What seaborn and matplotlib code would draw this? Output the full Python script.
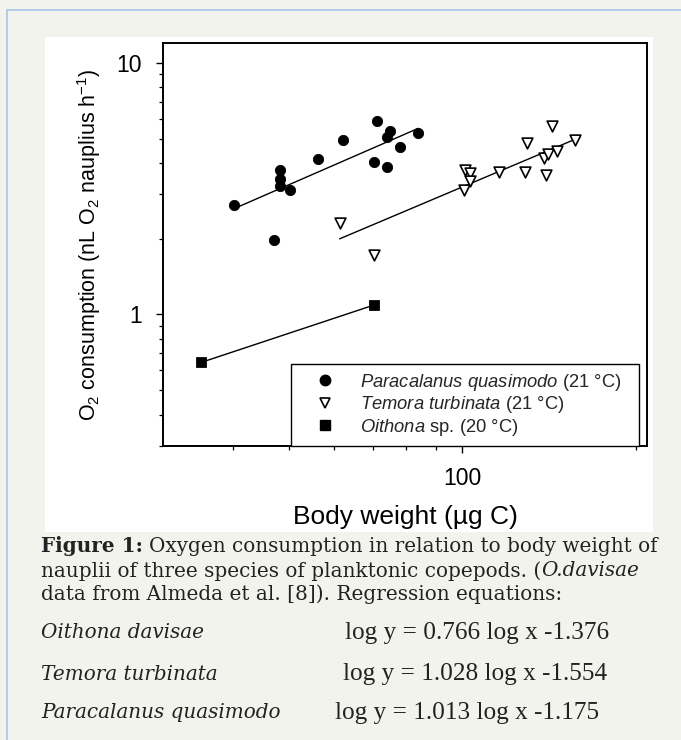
import numpy as np
import pandas as pd
import matplotlib
matplotlib.use("Agg")
import matplotlib.pyplot as plt
import seaborn as sns
from matplotlib.lines import Line2D
from matplotlib.patches import Rectangle
from matplotlib.ticker import FixedLocator, NullFormatter, FixedFormatter

# data (body weight in ug C, O2 consumption in nL O2 nauplius^-1 h^-1)
para_x = [40.2, 47.2, 48.3, 48.3, 48.3, 50.2, 56.2, 62.1, 70.2, 71.1, 74.0, 74.0, 75.1, 78.1, 83.9]
para_y = [2.73, 1.97, 3.75, 3.44, 3.25, 3.13, 4.14, 4.96, 4.04, 5.87, 3.84, 5.08, 5.37, 4.64, 5.26]

tem_x = [61.3, 70.4, 101.2, 103.1, 103.1, 100.9, 115.9, 128.2, 129.7, 139.9, 143.0, 138.8, 140.7, 146.0, 156.5]
tem_y = [2.31, 1.73, 3.75, 3.65, 3.40, 3.12, 3.69, 3.69, 4.81, 3.57, 5.60, 4.17, 4.33, 4.47, 4.93]

oit_x = [35.3, 70.3]
oit_y = [0.645, 1.09]

legend_labels = [r"$\mathit{Paracalanus\ quasimodo}$ (21 °C)",
                 r"$\mathit{Temora\ turbinata}$ (21 °C)",
                 r"$\mathit{Oithona}$ sp. (20 °C)"]

eq_species = ["Oithona davisae", "Temora turbinata", "Paracalanus quasimodo"]
eq_text = ["log y = 0.766 log x -1.376", "log y = 1.028 log x -1.554", "log y = 1.013 log x -1.175"]

sns.set_theme(style="ticks")
plt.rcParams['font.family'] = ['Liberation Sans', 'DejaVu Sans']
plt.rcParams['mathtext.fontset'] = 'custom'
plt.rcParams['mathtext.rm'] = 'Liberation Sans'
plt.rcParams['mathtext.it'] = 'Liberation Sans:italic'
plt.rcParams['mathtext.bf'] = 'Liberation Sans:bold'

W, H = 681, 740
fig = plt.figure(figsize=(W / 100, H / 100), dpi=100, facecolor='#f3f3ee')

# page decoration: blue frame lines and the white picture area
fig.add_artist(Line2D([7 / W, 1], [1 - 9.5 / H, 1 - 9.5 / H], color='#a9c4e8', lw=1.2))
fig.add_artist(Line2D([7 / W, 7 / W], [0, 1 - 9.5 / H], color='#a9c4e8', lw=1.2))
fig.add_artist(Rectangle((45 / W, 1 - 532 / H), (653 - 45) / W, (532 - 37) / H,
                         transform=fig.transFigure, facecolor='white', edgecolor='none', zorder=0))

ax = fig.add_axes([163 / W, 1 - 446 / H, (647 - 163) / W, (446 - 43) / H])
ax.set_facecolor('white')

df_p = pd.DataFrame({'x': para_x, 'y': para_y})
df_t = pd.DataFrame({'x': tem_x, 'y': tem_y})
df_o = pd.DataFrame({'x': oit_x, 'y': oit_y})

sns.scatterplot(data=df_p, x='x', y='y', marker='o', s=55, color='black', edgecolor='black', ax=ax, zorder=3)
sns.scatterplot(data=df_t, x='x', y='y', marker='v', s=60, color='white', edgecolor='black', linewidth=1.2, ax=ax, zorder=3)
sns.scatterplot(data=df_o, x='x', y='y', marker='s', s=50, color='black', edgecolor='black', ax=ax, zorder=3)

# log-log regression lines over the range of each species
for d in (df_p, df_t, df_o):
    b, a = np.polyfit(np.log10(d['x']), np.log10(d['y']), 1)
    xs = np.array([d['x'].min(), d['x'].max()])
    ax.plot(xs, 10 ** (a + b * np.log10(xs)), color='black', lw=1.0, zorder=2)

ax.set_xscale('log')
ax.set_yscale('log')
ax.set_xlim(30.3, 209)
ax.set_ylim(0.3, 12)

ax.xaxis.set_major_locator(FixedLocator([100]))
ax.xaxis.set_major_formatter(FixedFormatter(['100']))
ax.xaxis.set_minor_locator(FixedLocator([30, 40, 50, 60, 70, 80, 90, 200]))
ax.xaxis.set_minor_formatter(NullFormatter())
ax.yaxis.set_major_locator(FixedLocator([1, 10]))
ax.yaxis.set_major_formatter(FixedFormatter(['1', '10']))
ax.yaxis.set_minor_locator(FixedLocator([0.3, 0.4, 0.5, 0.6, 0.7, 0.8, 0.9, 2, 3, 4, 5, 6, 7, 8, 9]))
ax.yaxis.set_minor_formatter(NullFormatter())

ax.tick_params(which='major', direction='out', length=5, width=1.0, color='black',
               labelsize=16.5, labelcolor='black', pad=10)
ax.tick_params(which='minor', direction='out', length=3, width=0.9, color='black')
for sp in ax.spines.values():
    sp.set_visible(True)
    sp.set_color('black')
    sp.set_linewidth(1.4)

ax.set_xlabel("Body weight (µg C)", fontsize=19, color='black', labelpad=11)
ax.set_ylabel(r"O$_2$ consumption (nL O$_2$ nauplius h$^{-1}$)", fontsize=15.5, color='black', labelpad=10)

handles = [Line2D([], [], ls='none', marker='o', ms=7.5, mfc='black', mec='black'),
           Line2D([], [], ls='none', marker='v', ms=7.5, mfc='white', mec='black', mew=1.2),
           Line2D([], [], ls='none', marker='s', ms=7, mfc='black', mec='black')]
leg = ax.legend(handles, legend_labels, loc='lower left', bbox_to_anchor=(0.265, 0.0, 0.7185, 0.2),
                mode='expand', fontsize=13.2, frameon=True, fancybox=False, framealpha=1,
                edgecolor='black', borderpad=0.45, labelspacing=0.08, handlelength=2.8,
                handletextpad=0.5, borderaxespad=0)
leg.get_frame().set_linewidth(1.0)

# caption under the chart, built from styled runs
renderer = fig.canvas.get_renderer()
CAP = dict(fontsize=14.4, color='#222222', family='DejaVu Serif', va='center')


def text_width(s, **kw):
    t = fig.text(0, 0, s, **kw)
    w = t.get_window_extent(renderer).width
    t.remove()
    return w


def put_runs(x_px, y_px, runs):
    x = x_px
    for s, extra in runs:
        kw = dict(CAP, **extra)
        lead = len(s) - len(s.lstrip(' '))
        if lead:
            x += lead * (text_width('x x', **kw) - text_width('xx', **kw))
        s = s.lstrip(' ')
        t = fig.text(x / W, 1 - y_px / H, s, **kw)
        x += t.get_window_extent(renderer).width


put_runs(41, 546, [("Figure 1:", {'weight': 'bold'}),
                   (" Oxygen consumption in relation to body weight of", {})])
put_runs(41, 571, [("nauplii of three species of planktonic copepods. (", {}),
                   ("O.davisae", {'style': 'italic'})])
put_runs(41, 594, [("data from Almeda et al. [8]). Regression equations:", {})])

rows_y = [633, 674, 713]
eq_x = [345, 343, 335]
for sp_name, eq, yy, xx in zip(eq_species, eq_text, rows_y, eq_x):
    fig.text(41 / W, 1 - yy / H, sp_name, **dict(CAP, style='italic'))
    fig.text(xx / W, 1 - yy / H, eq, fontsize=18.2, color='#222222', family='Liberation Serif', va='center')

fig.savefig('out.png', dpi=100, facecolor=fig.get_facecolor())
